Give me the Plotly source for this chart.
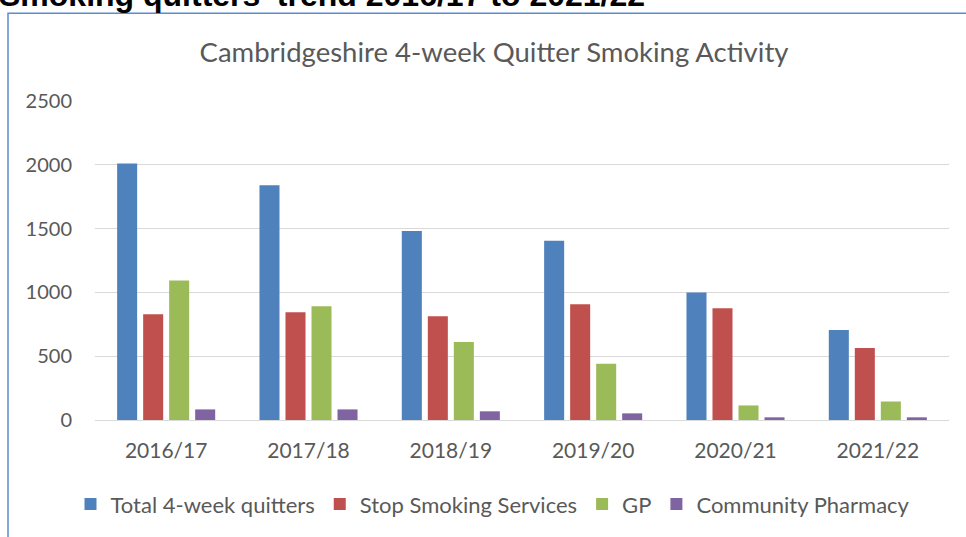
import plotly.graph_objects as go

categories = ["2016/17", "2017/18", "2018/19", "2019/20", "2020/21", "2021/22"]
total_quitters = [2010, 1840, 1482, 1404, 1000, 705]
stop_smoking_services = [829, 845, 814, 907, 876, 565]
gp = [1094, 891, 611, 441, 114, 145]
community_pharmacy = [83, 83, 68, 52, 21, 21]
y_ticks = [0, 500, 1000, 1500, 2000, 2500]

series = [
    ("Total 4-week quitters", total_quitters, "#4F81BD"),
    ("Stop Smoking Services", stop_smoking_services, "#C0504D"),
    ("GP", gp, "#9BBB59"),
    ("Community Pharmacy", community_pharmacy, "#8064A2"),
]

FONT = "Lato"
TXT = "#595959"

fig = go.Figure()
for name, vals, col in series:
    fig.add_trace(go.Bar(x=categories, y=vals, name=name, marker=dict(color=col, line=dict(width=0))))

W, H = 966, 537
L, R, T, B = 95, 17, 101, 114
pw, ph = W - L - R, H - T - B

def px(x):
    return (x - L) / pw

def py(y):
    return (H - B - y) / ph

fig.update_layout(
    width=W, height=H,
    margin=dict(l=L, r=R, t=T, b=B),
    paper_bgcolor="white", plot_bgcolor="white",
    barmode="group", bargap=0.269, bargroupgap=0.23,
    font=dict(family=FONT, color=TXT, size=20),
    title=dict(text="Cambridgeshire 4-week Quitter Smoking Activity",
               x=494 / W, xanchor="center", xref="container",
               y=1 - 52 / H, yanchor="middle", yref="container",
               font=dict(family=FONT, size=27.5, color=TXT)),
    legend=dict(orientation="h", x=px(493), xanchor="center", y=py(508), yanchor="middle",
                font=dict(family=FONT, size=22, color=TXT), traceorder="normal"),
    xaxis=dict(showgrid=False, ticks="", ticklabelstandoff=16, showline=False,
               tickfont=dict(family=FONT, size=21, color=TXT)),
    yaxis=dict(range=[0, 2500], tickvals=y_ticks, showgrid=True, gridcolor="#D9D9D9", gridwidth=1.3,
               zeroline=True, zerolinecolor="#D9D9D9", zerolinewidth=1.3,
               ticks="", ticklabelstandoff=22, showline=False,
               tickfont=dict(family=FONT, size=20, color=TXT)),
)

# outer chart frame (partially visible)
fig.add_shape(type="rect", xref="paper", yref="paper",
              x0=px(8), x1=px(975), y0=py(545), y1=py(12.5),
              line=dict(color="#5B8BD0", width=1.5), fillcolor="rgba(0,0,0,0)", layer="below")

# page heading, cut off at top
fig.add_annotation(text="<b>Smoking quitters' trend 2016/17 to 2021/22</b>",
                   xref="paper", yref="paper", x=px(-3), y=py(14.5), xanchor="left", yanchor="bottom",
                   showarrow=False, font=dict(family="Liberation Sans", size=32, color="black"))

fig.write_html("out.html", config={"displayModeBar": False},
               post_script="document.body.style.margin='0';document.body.style.padding='0';")
